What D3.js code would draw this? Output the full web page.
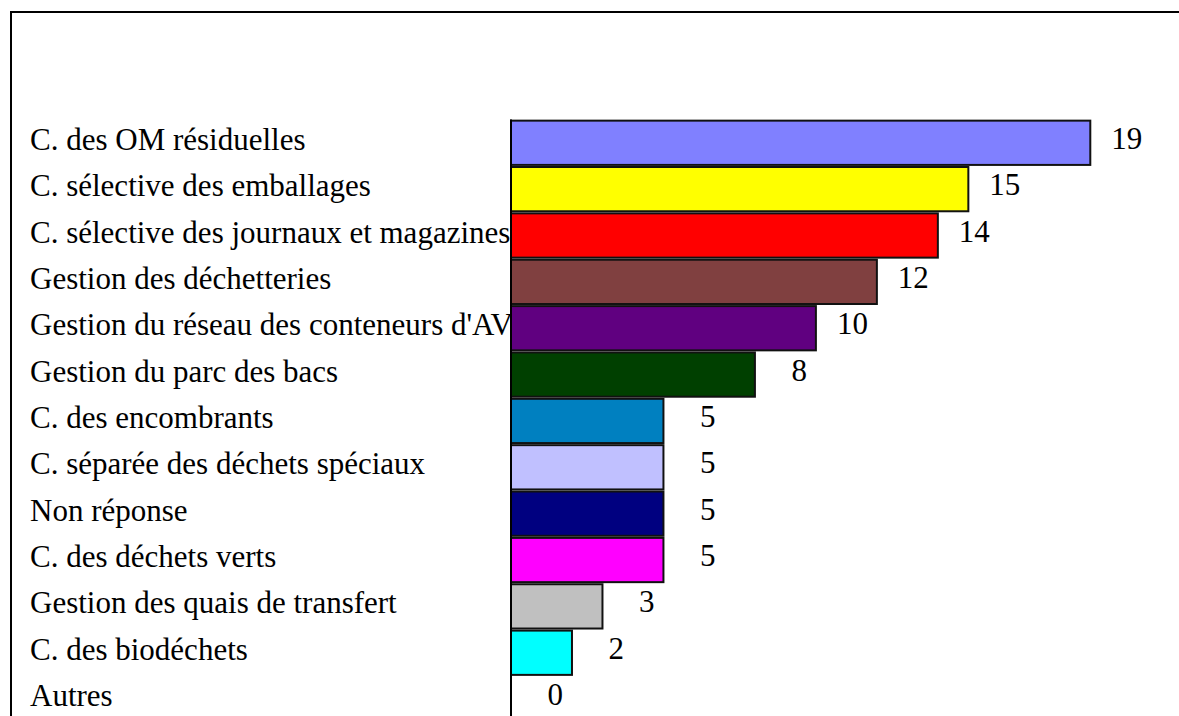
<!DOCTYPE html>
<html><head><meta charset="utf-8">
<script src="https://cdn.jsdelivr.net/npm/d3@7"></script>
<style>html,body{margin:0;padding:0;background:#fff;}svg{display:block;}</style>
</head><body>
<script>
const categories = [
  "C. des OM résiduelles",
  "C. sélective des emballages",
  "C. sélective des journaux et magazines",
  "Gestion des déchetteries",
  "Gestion du réseau des conteneurs d'AV",
  "Gestion du parc des bacs",
  "C. des encombrants",
  "C. séparée des déchets spéciaux",
  "Non réponse",
  "C. des déchets verts",
  "Gestion des quais de transfert",
  "C. des biodéchets",
  "Autres"
];
const values = [19, 15, 14, 12, 10, 8, 5, 5, 5, 5, 3, 2, 0];
const colors = ["#8080FF","#FFFF00","#FF0000","#804040","#600080","#004000","#0080C0","#C0C0FF","#000080","#FF00FF","#C0C0C0","#00FFFF","#FFFFFF"];

const W = 1179, H = 716;
const svg = d3.select("body").append("svg").attr("width", W).attr("height", H);

// frame
svg.append("rect").attr("x", 11).attr("y", 12).attr("width", 1300).attr("height", 900)
  .attr("fill", "none").attr("stroke", "#000").attr("stroke-width", 2);

const x = d3.scaleLinear().domain([0, 19]).range([511, 1090.3]);
const y = d3.scaleBand().domain(categories).range([119.6, 119.6 + 46.36 * categories.length]).paddingInner(0.045).paddingOuter(0.0225);

const font = "'Liberation Serif','Times New Roman',serif";

// category labels
svg.append("g").selectAll("text").data(categories).join("text")
  .attr("x", 30)
  .attr("y", d => y(d) + y.bandwidth() / 2 + 7)
  .attr("font-family", font).attr("font-size", 31).attr("fill", "#000")
  .text(d => d);

// bars
svg.append("g").selectAll("rect").data(values.map((v, i) => ({v, c: categories[i], col: colors[i]})))
  .join("rect")
  .filter(d => d.v > 0)
  .attr("x", x(0))
  .attr("y", d => y(d.c))
  .attr("width", d => x(d.v) - x(0))
  .attr("height", y.bandwidth())
  .attr("fill", d => d.col)
  .attr("stroke", "#111").attr("stroke-width", 2);

// axis line
svg.append("line").attr("x1", x(0)).attr("x2", x(0)).attr("y1", 119.6).attr("y2", H + 10)
  .attr("stroke", "#000").attr("stroke-width", 2);

// value labels
svg.append("g").selectAll("text").data(values.map((v, i) => ({v, c: categories[i]})))
  .join("text")
  .attr("x", d => x(d.v) + 52)
  .attr("y", d => y(d.c) + y.bandwidth() / 2 + 6)
  .attr("text-anchor", "end")
  .attr("font-family", font).attr("font-size", 31).attr("fill", "#000")
  .text(d => d.v);
</script>
</body></html>
